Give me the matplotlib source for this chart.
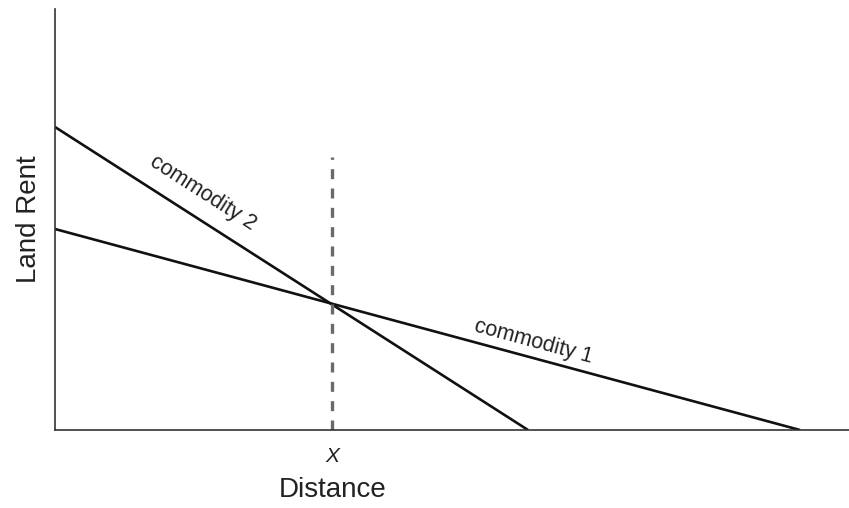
import numpy as np
import matplotlib.pyplot as plt

plt.rcParams['font.family'] = ['Liberation Sans', 'DejaVu Sans']

# Rent gradients (distance units, rent units)
commodity_2 = {'x': [0, 473], 'y': [303, 0]}
commodity_1 = {'x': [0, 745], 'y': [201, 0]}
x_break = 277
dash_top = 273
x_max, y_max = 794, 421

fig = plt.figure(figsize=(8.49, 5.08), dpi=100)
ax = fig.add_axes([55 / 849, 78 / 508, (849 - 55) / 849, 421 / 508])
ax.set_xlim(0, x_max)
ax.set_ylim(0, y_max)

ax.plot(commodity_2['x'], commodity_2['y'], color='#111111', lw=1.9, solid_capstyle='butt')
ax.plot(commodity_1['x'], commodity_1['y'], color='#111111', lw=1.9, solid_capstyle='butt')
ax.plot([x_break, x_break], [0, dash_top], color='#6a6a6a', lw=2.4,
        linestyle=(0, (3.0, 2.8)))

# labels along lines
def slope_angle(line):
    dx = line['x'][1] - line['x'][0]
    dy = line['y'][1] - line['y'][0]
    return np.degrees(np.arctan2(dy, dx))

ax.text(142, 303 - 142 * 303 / 473 + 16, 'commodity 2', rotation=slope_angle(commodity_2),
        transform_rotates_text=True, rotation_mode='anchor', ha='center', va='bottom',
        fontsize=15.5, color='#222222')
ax.text(476, 201 - 476 * 201 / 745 + 6, 'commodity 1', rotation=slope_angle(commodity_1),
        transform_rotates_text=True, rotation_mode='anchor', ha='center', va='bottom',
        fontsize=15.5, color='#222222')

for side in ['top', 'right']:
    ax.spines[side].set_visible(False)
for side in ['left', 'bottom']:
    ax.spines[side].set_color('#333333')
    ax.spines[side].set_linewidth(1.2)

ax.set_yticks([])
ax.set_xticks([x_break])
ax.set_xticklabels(['X'], fontstyle='italic', fontsize=15, color='#222222')
ax.tick_params(axis='x', length=0, pad=12)

ax.set_xlabel('Distance', fontsize=20, color='#222222')
ax.xaxis.set_label_coords((333 - 55) / 794, -47 / 421)
ax.set_ylabel('Land Rent', fontsize=20, color='#222222', labelpad=9)

fig.savefig('out.png', dpi=100)
